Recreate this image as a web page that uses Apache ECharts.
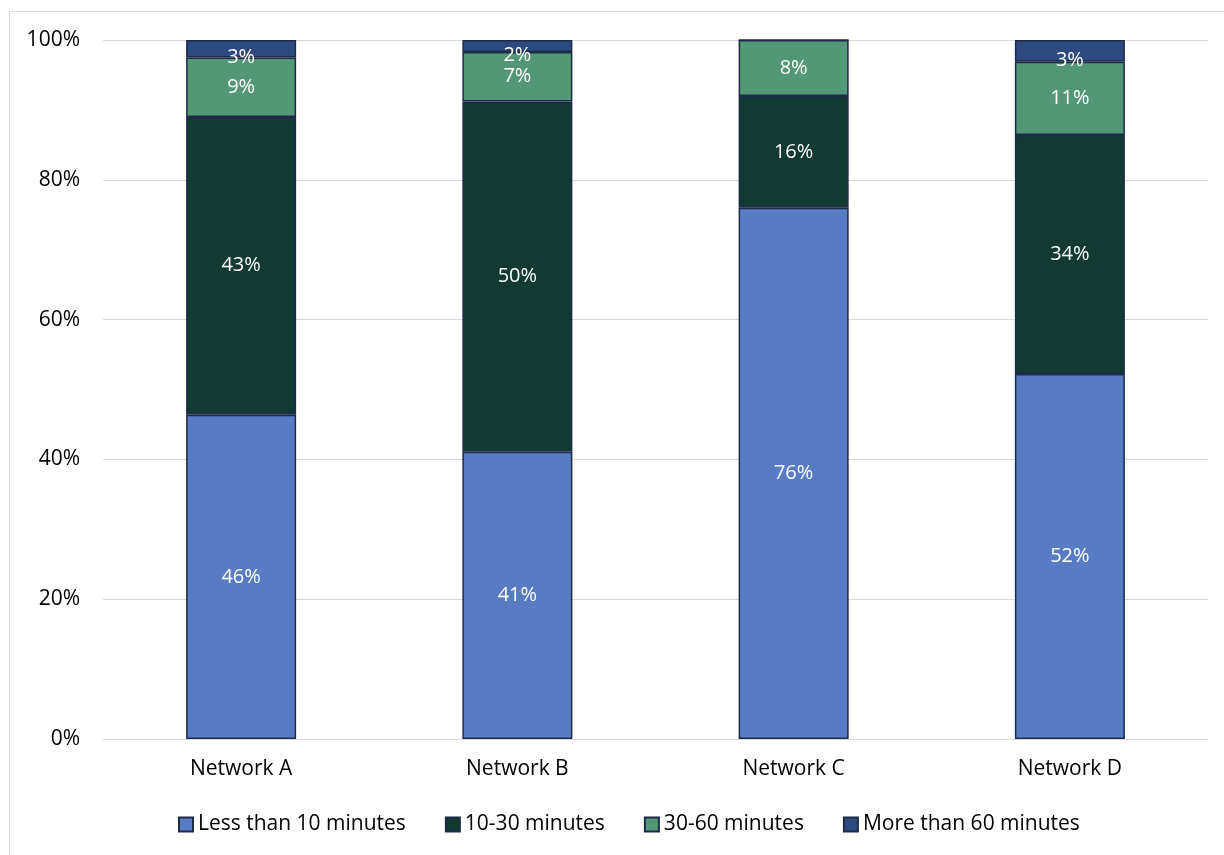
<!DOCTYPE html>
<html>
<head>
<meta charset="utf-8">
<script src="https://cdn.jsdelivr.net/npm/echarts@6/dist/echarts.min.js"></script>
<style>
	html, body { margin: 0; padding: 0; background: #fff; }
	#chart { width: 1224px; height: 855px; }
</style>
</head>
<body>
<div id="chart"></div>
<script>
	// shares per network (percent of total)
	const networks = ['Network A', 'Network B', 'Network C', 'Network D']
	const lessThan10 = [46.4, 41.1, 76.0, 52.2]
	const from10to30 = [42.6, 50.1, 16.0, 34.2]
	const from30to60 = [8.5, 7.1, 8.0, 10.5]
	const moreThan60 = [2.5, 1.7, 0, 3.1]
	const seriesNames = ['Less than 10 minutes', '10-30 minutes', '30-60 minutes', 'More than 60 minutes']
	const colors = ['#587cc4', '#113a32', '#529877', '#2c4a80']

	const font = '"Open Sans", Carlito, Calibri, sans-serif'
	const chart = echarts.init(document.getElementById('chart'))

	function makeSeries(name, data, color, offset) {
		return {
			name: name,
			type: 'bar',
			stack: 'total',
			data: data,
			barWidth: 110,
			itemStyle: {
				color: color,
				borderColor: '#1f2a48',
				borderWidth: 1.5
			},
			label: {
				show: true,
				position: 'inside',
				offset: offset || [0, 0],
				color: '#fff',
				fontFamily: font,
				fontSize: 20,
				formatter: (p) => p.value > 0 ? Math.round(p.value) + '%' : ''
			}
		}
	}

	const option = {
		animation: false,
		color: colors,
		graphic: [{
			type: 'rect',
			shape: { x: 9.5, y: 11.5, width: 1240, height: 870 },
			style: { fill: 'none', stroke: '#d9d9d9', lineWidth: 1 },
			silent: true
		}],
		grid: { left: 103, right: 16, top: 40, bottom: 116, containLabel: false },
		legend: {
			bottom: 15,
			left: 173,
			itemWidth: 14,
			itemHeight: 14,
			itemGap: 39,
			icon: 'rect',
			textStyle: { fontFamily: font, fontSize: 21, color: '#000' },
			data: seriesNames
		},
		xAxis: {
			type: 'category',
			data: networks,
			axisTick: { show: false },
			axisLine: { lineStyle: { color: '#d9d9d9', width: 1 } },
			axisLabel: { color: '#000', fontFamily: font, fontSize: 21, margin: 20 }
		},
		yAxis: {
			type: 'value',
			min: 0,
			max: 100,
			interval: 20,
			axisLine: { show: false },
			axisTick: { show: false },
			splitLine: { lineStyle: { color: '#d9d9d9', width: 1 } },
			axisLabel: { color: '#000', fontFamily: font, fontSize: 21, margin: 23, formatter: '{value}%' }
		},
		series: [
			makeSeries(seriesNames[0], lessThan10, colors[0]),
			makeSeries(seriesNames[1], from10to30, colors[1]),
			makeSeries(seriesNames[2], from30to60, colors[2]),
			makeSeries(seriesNames[3], moreThan60, colors[3], [0, 9])
		]
	}

	chart.setOption(option)
</script>
</body>
</html>
